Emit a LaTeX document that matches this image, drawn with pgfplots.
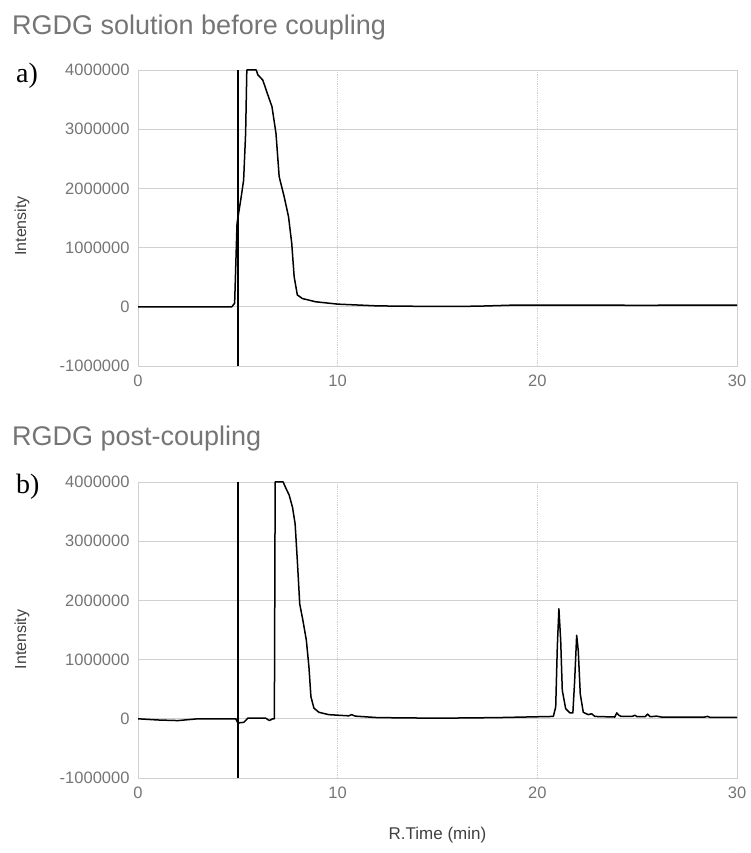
\documentclass[border=0pt]{standalone}
\usepackage{pgfplots}
\pgfplotsset{compat=1.18}
\usepackage{fontspec}
\setmainfont{Liberation Sans}
\newfontfamily\seriffont{Liberation Serif}
\definecolor{txtgray}{HTML}{757575}
\definecolor{gridgray}{HTML}{D0D0D0}
\definecolor{axdark}{HTML}{444444}
\pgfplotsset{
  chromstyle/.style={
    scale only axis, width=599pt, height=296pt,
    xmin=0, xmax=30, ymin=-1000000, ymax=4000000,
    xtick={0,10,20,30}, ytick={-1000000,0,1000000,2000000,3000000,4000000},
    scaled y ticks=false,
    /pgf/number format/.cd, fixed, 1000 sep={}, assume math mode=true, /pgfplots/.cd,
    major tick length=0pt,
    tick style={draw=none},
    axis line style={draw=gridgray, line width=0.8pt},
    xmajorgrids, ymajorgrids,
    x grid style={draw=gridgray, line width=0.8pt, densely dotted},
    y grid style={draw=gridgray, line width=0.8pt},
    ticklabel style={font=\fontsize{16.5}{18}\selectfont, text=txtgray},
    yticklabel style={xshift=-5pt},
    xticklabel style={yshift=-5pt},
    extra x ticks={0}, extra x tick labels={},
    extra x tick style={grid style={draw=axdark, line width=1.3pt, solid}},
    extra y ticks={0}, extra y tick labels={},
    extra y tick style={grid style={draw=axdark, line width=1.2pt, solid}},
    clip=true,
  }
}
\begin{document}
\begin{tikzpicture}[x=1pt,y=1pt]
\path[use as bounding box] (0,0) rectangle (750,853);
% titles
\node[anchor=base west, text=txtgray, inner sep=0pt, font=\fontsize{27}{31}\selectfont] at (12,818) {RGDG solution before coupling};
\node[anchor=base west, text=txtgray, inner sep=0pt, font=\fontsize{27}{31}\selectfont] at (12,407) {RGDG post-coupling};
\node[anchor=base west, inner sep=0pt, font=\seriffont\fontsize{28}{31}\selectfont] at (16,770) {a)};
\node[anchor=base west, inner sep=0pt, font=\seriffont\fontsize{28}{31}\selectfont] at (16,359) {b)};
\node[rotate=90, text=black!75, inner sep=0pt, font=\fontsize{16}{18}\selectfont] at (22,627) {Intensity};
\node[rotate=90, text=black!75, inner sep=0pt, font=\fontsize{16}{18}\selectfont] at (22,213.5) {Intensity};
\node[text=black!75, inner sep=0pt, font=\fontsize{17}{19}\selectfont] at (437.5,18) {R.Time (min)};

\begin{axis}[chromstyle, anchor=south west, at={(138pt,487pt)}]
\addplot[black, line width=1.5pt, line join=round] coordinates {
(0,0) (4.7,0) (4.84,60000) (4.96,1410000) (5.17,1860000) (5.29,2140000) (5.39,2930000) (5.45,4000000) (5.92,4000000) (6.0,3920000) (6.25,3830000) (6.45,3630000) (6.71,3380000) (6.91,2930000) (7.07,2200000) (7.32,1860000) (7.54,1520000) (7.70,1070000) (7.82,510000) (7.98,200000) (8.23,140000) (8.89,85000) (10,45000) (12,15000) (15,5000) (17,10000) (19,30000) (22,30000) (25,25000) (30,30000)
};
\draw[black, line width=1.4pt] (axis cs:5,-1000000) -- (axis cs:5,4000000);
\end{axis}

\begin{axis}[chromstyle, anchor=south west, at={(138pt,75pt)}]
\addplot[black, line width=1.5pt, line join=round] coordinates {
(0,0) (1,-20000) (2,-30000) (3,0) (4.9,0) (5.0,-70000) (5.3,-60000) (5.5,10000) (6.4,10000) (6.58,-30000) (6.74,0) (6.83,0) (6.87,4000000) (7.27,4000000) (7.40,3900000) (7.57,3780000) (7.74,3570000) (7.87,3290000) (7.98,2670000) (8.10,1940000) (8.26,1660000) (8.43,1330000) (8.56,880000) (8.66,375000) (8.81,180000) (9.06,110000) (9.55,70000) (10.55,50000) (10.7,70000) (10.88,45000) (12,20000) (15,10000) (18,20000) (20.8,40000) (20.92,200000) (21.0,1210000) (21.08,1860000) (21.17,1320000) (21.25,480000) (21.42,170000) (21.63,100000) (21.78,100000) (21.87,650000) (21.97,1410000) (22.05,1150000) (22.15,420000) (22.3,110000) (22.55,70000) (22.72,85000) (22.88,40000) (23.88,30000) (23.98,100000) (24.08,60000) (24.2,40000) (24.75,40000) (24.88,60000) (25.0,35000) (25.4,35000) (25.52,80000) (25.65,35000) (25.97,45000) (26.2,30000) (28.38,30000) (28.52,40000) (28.65,25000) (30,25000)
};
\draw[black, line width=1.4pt] (axis cs:5,-1000000) -- (axis cs:5,4000000);
\end{axis}
\end{tikzpicture}
\end{document}
